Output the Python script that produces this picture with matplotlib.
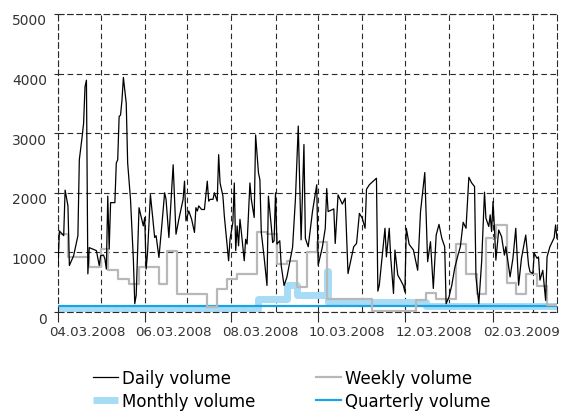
import pandas as pd
import matplotlib
matplotlib.use("Agg")
import matplotlib.pyplot as plt
import matplotlib.dates as mdates
import matplotlib.transforms as mtransforms

# Data (days counted from 2008-04-03)
start = pd.Timestamp("2008-04-03")
end_day = 351

daily_days = [0, 1, 4, 5, 7, 8, 11, 14, 15, 17, 18, 19, 20, 21, 22, 27, 29, 30, 32, 33,
              34, 35, 36, 37, 40, 41, 42, 43, 44, 45, 46, 48, 49, 51, 53, 54, 55, 57, 60, 61,
              62, 63, 65, 67, 68, 69, 71, 73, 75, 76, 78, 81, 83, 85, 88, 89, 90, 92, 94, 96,
              97, 98, 99, 101, 103, 105, 106, 107, 109, 110, 112, 113, 114, 116, 117, 120, 121, 123, 124, 125,
              126, 127, 128, 129, 131, 132, 133, 135, 136, 138, 139, 141, 142, 143, 145, 147, 148, 150, 151, 152,
              153, 154, 156, 157, 159, 161, 163, 165, 167, 169, 171, 173, 174, 176, 179, 182, 183, 186, 188, 189,
              190, 194, 195, 197, 200, 202, 204, 208, 210, 212, 214, 216, 217, 219, 224, 225, 226, 230, 231, 233,
              234, 236, 237, 239, 241, 243, 244, 245, 247, 250, 253, 255, 258, 260, 262, 264, 266, 268, 270, 272,
              273, 275, 277, 279, 281, 283, 285, 287, 289, 291, 293, 294, 296, 298, 300, 301, 303, 304, 305, 306,
              307, 308, 310, 312, 314, 315, 318, 320, 322, 324, 326, 329, 331, 332, 334, 335, 337, 338, 339, 341,
              343, 344, 346, 349, 350, 351]
daily_volume = [780, 1360, 1280, 2045, 1780, 780, 945, 1280, 2555, 2945, 3165, 3780, 3890, 640, 1080, 1030, 780, 945, 955, 890,
                720, 1945, 1055, 1835, 1835, 2500, 2555, 3280, 3305, 3555, 3935, 3500, 2500, 1890, 890, 140, 280, 1750, 1445, 1585,
                720, 1000, 1970, 1500, 1250, 1280, 915, 1445, 2000, 1890, 1250, 2470, 1305, 1555, 1890, 2195, 1530, 1695, 1555, 1335,
                1750, 1695, 1780, 1720, 1720, 2195, 1860, 1890, 1890, 2000, 1860, 2640, 2165, 1945, 1610, 860, 1220, 1500, 2165, 1030,
                1445, 1110, 1555, 1335, 860, 1220, 1140, 2165, 1890, 1585, 2970, 2335, 2220, 1335, 915, 445, 1945, 1445, 1165, 1195,
                2000, 1140, 1195, 780, 445, 585, 835, 1085, 1890, 3120, 1210, 2810, 1235, 1095, 1685, 2135, 785, 1095, 1405, 2070,
                1685, 1730, 1150, 1965, 1810, 1910, 645, 1095, 1150, 1655, 1575, 1405, 2060, 2135, 2245, 350, 450, 1405, 925, 1405,
                925, 310, 1040, 620, 535, 440, 335, 1405, 1135, 1040, 700, 1685, 2340, 845, 1180, 395, 1290, 1470, 1235, 1095,
                140, 250, 450, 730, 925, 1095, 1505, 1405, 2260, 2165, 2105, 590, 140, 845, 2010, 1575, 1435, 1630, 1350, 1855,
                1405, 870, 1375, 1265, 955, 1095, 590, 900, 1405, 450, 900, 1290, 785, 675, 645, 985, 900, 925, 535, 700,
                195, 925, 1095, 1245, 1460, 1235]

weekly_days = [0, 7, 22, 30, 35, 42, 50, 57, 71, 77, 84, 105, 112, 119, 126, 140, 147, 154, 161, 168,
               175, 182, 189, 221, 252, 259, 266, 280, 287, 295, 301, 308, 316, 322, 329, 337, 344, 351]
weekly_volume = [1310, 920, 750, 1060, 700, 560, 475, 750, 475, 1020, 305, 80, 390, 560, 640, 1350, 1310, 810, 860, 420,
                 1015, 1180, 220, 10, 200, 320, 215, 1140, 640, 305, 1235, 1460, 490, 305, 640, 430, 110, 110]

monthly_days = [0, 141, 161, 168, 189, 190, 259, 351]
monthly_volume = [50, 210, 460, 280, 680, 170, 95, 95]

quarterly_days = [0, 351]
quarterly_volume = [100, 100]


def to_dates(days):
    return start + pd.to_timedelta(days, unit="D")


plt.rcParams["font.family"] = ["DejaVu Sans"]

fig = plt.figure(figsize=(5.74, 4.14), dpi=100)
ax = fig.add_axes([58 / 574, 1 - 313 / 414, (557 - 58) / 574, (313 - 15) / 414])

ax.plot(to_dates(monthly_days), monthly_volume, drawstyle="steps-post",
        color="#a6dcf6", lw=5, solid_capstyle="butt", zorder=2, label="Monthly volume")
ax.plot(to_dates(quarterly_days), quarterly_volume, color="#1ca3e3",
        lw=1.6, zorder=3, label="Quarterly volume")
ax.plot(to_dates(weekly_days), weekly_volume, drawstyle="steps-post",
        color="#b8b8b8", lw=1.6, zorder=4, label="Weekly volume")
ax.plot(to_dates(daily_days), daily_volume, color="black", lw=0.9, zorder=5,
        label="Daily volume")

ax.set_xlim(start, start + pd.Timedelta(days=end_day))
ax.set_ylim(0, 5000)
ax.set_yticks(range(0, 5001, 1000))

ax.xaxis.set_major_locator(mdates.MonthLocator(bymonth=[2, 4, 6, 8, 10, 12], bymonthday=3))
ax.xaxis.set_minor_locator(mdates.MonthLocator(bymonthday=3))
ax.xaxis.set_major_formatter(mdates.DateFormatter("%m.%d.%Y"))

dash = (0, (5, 3.2))
ax.grid(True, which="both", axis="x", color="#2a2a2a", lw=0.8, linestyle=dash)
ax.grid(True, which="major", axis="y", color="#2a2a2a", lw=0.8, linestyle=dash)
for sp in ax.spines.values():
    sp.set_linestyle(dash)
    sp.set_linewidth(0.8)
    sp.set_color("#2a2a2a")

ax.tick_params(axis="x", which="major", length=7, width=0.8, color="#2a2a2a",
               labelsize=9.6, pad=2, labelcolor="#333333")
ax.tick_params(axis="x", which="minor", length=0)
ax.tick_params(axis="y", length=3, width=0.8, color="#2a2a2a",
               labelsize=10, pad=5, labelcolor="#333333")

offset_x = mtransforms.ScaledTranslation(0.29, 0, fig.dpi_scale_trans)
for lbl in ax.get_xticklabels():
    lbl.set_transform(lbl.get_transform() + offset_x)
offset_y = mtransforms.ScaledTranslation(0, -0.05, fig.dpi_scale_trans)
for lbl in ax.get_yticklabels():
    lbl.set_transform(lbl.get_transform() + offset_y)

handles, labels = ax.get_legend_handles_labels()
order = [3, 0, 2, 1]
fig.legend([handles[i] for i in order], [labels[i] for i in order],
           loc="center", bbox_to_anchor=(0.508, 0.057), ncol=2, frameon=False,
           fontsize=12, handlelength=1.5, handletextpad=0.25, columnspacing=3.6,
           labelspacing=0.3, borderpad=0, borderaxespad=0)

fig.savefig("out.png", dpi=100)
